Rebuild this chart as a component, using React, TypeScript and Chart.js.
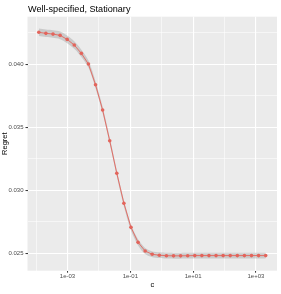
import React, { useEffect, useRef } from "react";
import { Chart, registerables } from "chart.js";

Chart.register(...registerables);

// c values (log2 spaced grid)
const cValues = [
  0.0001221, 0.0002053, 0.0003453, 0.0005806, 0.0009766, 0.001642, 0.002762,
  0.004645, 0.0078125, 0.01314, 0.0221, 0.03716, 0.0625, 0.1051, 0.1768,
  0.2973, 0.5, 0.8409, 1.4142, 2.3784, 4, 6.727, 11.314, 19.03, 32, 53.82,
  90.51, 152.2, 256, 430.5, 724.1, 1217.7, 2048,
];

const regret = [
  0.04254, 0.04246, 0.0424, 0.0423, 0.04198, 0.04153, 0.04087, 0.04002,
  0.03838, 0.03637, 0.03394, 0.03135, 0.02897, 0.02706, 0.02587, 0.02518,
  0.02492, 0.02485, 0.02481, 0.0248, 0.0248, 0.02481, 0.02482, 0.02482,
  0.02482, 0.02482, 0.02482, 0.02482, 0.02482, 0.02482, 0.02482, 0.02482,
  0.02482,
];

const regretSE = [
  0.0003, 0.0003, 0.0003, 0.0003, 0.0003, 0.0003, 0.00029, 0.00028,
  0.00027, 0.00026, 0.00025, 0.00025, 0.00025, 0.00025, 0.00024, 0.00024,
  0.00023, 0.00023, 0.00023, 0.00023, 0.00023, 0.00023, 0.00023, 0.00023,
  0.00023, 0.00023, 0.00023, 0.00023, 0.00023, 0.00023, 0.00023, 0.00023,
  0.00023,
];

const xTickValues = [1e-4, 1e-3, 1e-2, 1e-1, 1, 10, 100, 1000];
const xMajor = [1e-3, 1e-1, 10, 1000];
const xMajorLabels = ["1e-03", "1e-01", "1e+01", "1e+03"];

const yTickValues = [0.025, 0.0275, 0.03, 0.0325, 0.035, 0.0375, 0.04, 0.0425];
const yMajor = [0.025, 0.03, 0.035, 0.04];
const yMajorLabels = ["0.025", "0.030", "0.035", "0.040"];

const titleText = "Well-specified, Stationary";
const xTitle = "c";
const yTitle = "Regret";

const isMajor = (arr: number[], v: number) =>
  arr.some((m) => Math.abs(m - v) / Math.abs(m) < 1e-6);

export default function App() {
  const ref = useRef<HTMLCanvasElement | null>(null);

  useEffect(() => {
    document.body.style.margin = "0";
    const canvas = ref.current;
    if (!canvas) return;

    const lineData = cValues.map((x, i) => ({ x, y: regret[i] }));
    const upper = cValues.map((x, i) => ({ x, y: regret[i] + regretSE[i] }));
    const lower = cValues.map((x, i) => ({ x, y: regret[i] - regretSE[i] }));

    const titlePlugin = {
      id: "ggtitle",
      afterDraw(chart: any) {
        const ctx = chart.ctx;
        ctx.save();
        ctx.font = "9.1px 'Liberation Sans', Arial, sans-serif";
        ctx.fillStyle = "#000000";
        ctx.textAlign = "left";
        ctx.textBaseline = "middle";
        ctx.fillText(titleText, chart.chartArea.left + 0.5, 9);
        ctx.restore();
      },
    };

    const panelPlugin = {
      id: "panelbg",
      beforeDraw(chart: any) {
        const { ctx, chartArea } = chart;
        ctx.save();
        ctx.fillStyle = "#EBEBEB";
        ctx.fillRect(
          chartArea.left,
          chartArea.top,
          chartArea.right - chartArea.left,
          chartArea.bottom - chartArea.top
        );
        ctx.restore();
      },
    };

    const chart = new Chart(canvas, {
      type: "line",
      data: {
        datasets: [
          {
            label: "upper",
            data: upper,
            borderWidth: 0,
            pointRadius: 0,
            fill: false,
            borderColor: "rgba(0,0,0,0)",
            tension: 0.3,
            order: 3,
          },
          {
            label: "lower",
            data: lower,
            borderWidth: 0,
            pointRadius: 0,
            fill: "-1",
            borderColor: "rgba(0,0,0,0)",
            backgroundColor: "rgba(153,153,153,0.4)",
            tension: 0.3,
            order: 2,
          },
          {
            label: "Regret",
            data: lineData,
            borderColor: "#E3645B",
            backgroundColor: "#E3645B",
            borderWidth: 0.9,
            pointRadius: 1.8,
            pointBorderWidth: 0,
            pointBackgroundColor: "#E3645B",
            fill: false,
            tension: 0,
            order: 0,
          },
        ],
      },
      options: {
        animation: false,
        responsive: false,
        maintainAspectRatio: false,
        events: [],
        layout: { padding: { top: 16.7, left: 0, right: 0, bottom: 0 } },
        plugins: {
          legend: { display: false },
          tooltip: { enabled: false },
          title: { display: false },
          filler: { drawTime: "beforeDatasetsDraw" },
        },
        scales: {
          x: {
            type: "logarithmic",
            min: Math.pow(10, -4.274),
            max: Math.pow(10, 3.672),
            afterBuildTicks: (scale: any) => {
              scale.ticks = xTickValues.map((v) => ({ value: v }));
            },
            afterFit: (scale: any) => {
              scale.height = 23.3;
            },
            border: { display: false },
            grid: {
              color: "#FFFFFF",
              lineWidth: (ctx: any) =>
                isMajor(xMajor, ctx.tick?.value ?? 0) ? 1.1 : 0.55,
              tickColor: (ctx: any) =>
                isMajor(xMajor, ctx.tick?.value ?? 0) ? "#333333" : "rgba(0,0,0,0)",
              tickLength: 2,
              tickWidth: 1,
              drawTicks: true,
            },
            ticks: {
              autoSkip: false,
              maxRotation: 0,
              padding: 0.5,
              color: "#4D4D4D",
              font: { family: "'Liberation Sans', Arial, sans-serif", size: 6 },
              callback: (value: any) => {
                const idx = xMajor.findIndex(
                  (m) => Math.abs(m - value) / m < 1e-6
                );
                return idx >= 0 ? xMajorLabels[idx] : "";
              },
            },
            title: {
              display: true,
              text: xTitle,
              color: "#000000",
              padding: { top: 0, bottom: 4.5 },
              font: { family: "'Liberation Sans', Arial, sans-serif", size: 7.5 },
            },
          },
          y: {
            type: "linear",
            min: 0.02362,
            max: 0.04378,
            afterBuildTicks: (scale: any) => {
              scale.ticks = yTickValues.map((v) => ({ value: v }));
            },
            afterFit: (scale: any) => {
              scale.width = 27.5;
            },
            border: { display: false },
            grid: {
              color: "#FFFFFF",
              lineWidth: (ctx: any) =>
                isMajor(yMajor, ctx.tick?.value ?? 0) ? 1.1 : 0.55,
              tickColor: (ctx: any) =>
                isMajor(yMajor, ctx.tick?.value ?? 0) ? "#333333" : "rgba(0,0,0,0)",
              tickLength: 2,
              tickWidth: 1,
              drawTicks: true,
            },
            ticks: {
              autoSkip: false,
              padding: 2,
              color: "#4D4D4D",
              font: { family: "'Liberation Sans', Arial, sans-serif", size: 6 },
              callback: (value: any) => {
                const idx = yMajor.findIndex(
                  (m) => Math.abs(m - value) / m < 1e-6
                );
                return idx >= 0 ? yMajorLabels[idx] : "";
              },
            },
            title: {
              display: true,
              text: yTitle,
              color: "#000000",
              padding: { top: 0, bottom: 0 },
              font: { family: "'Liberation Sans', Arial, sans-serif", size: 7.5 },
            },
          },
        },
      },
      plugins: [panelPlugin, titlePlugin],
    } as any);

    return () => {
      chart.destroy();
    };
  }, []);

  return (
    <div style={{ width: 281, height: 294 }}>
      <canvas ref={ref} width={281} height={294} style={{ display: "block" }} />
    </div>
  );
}
